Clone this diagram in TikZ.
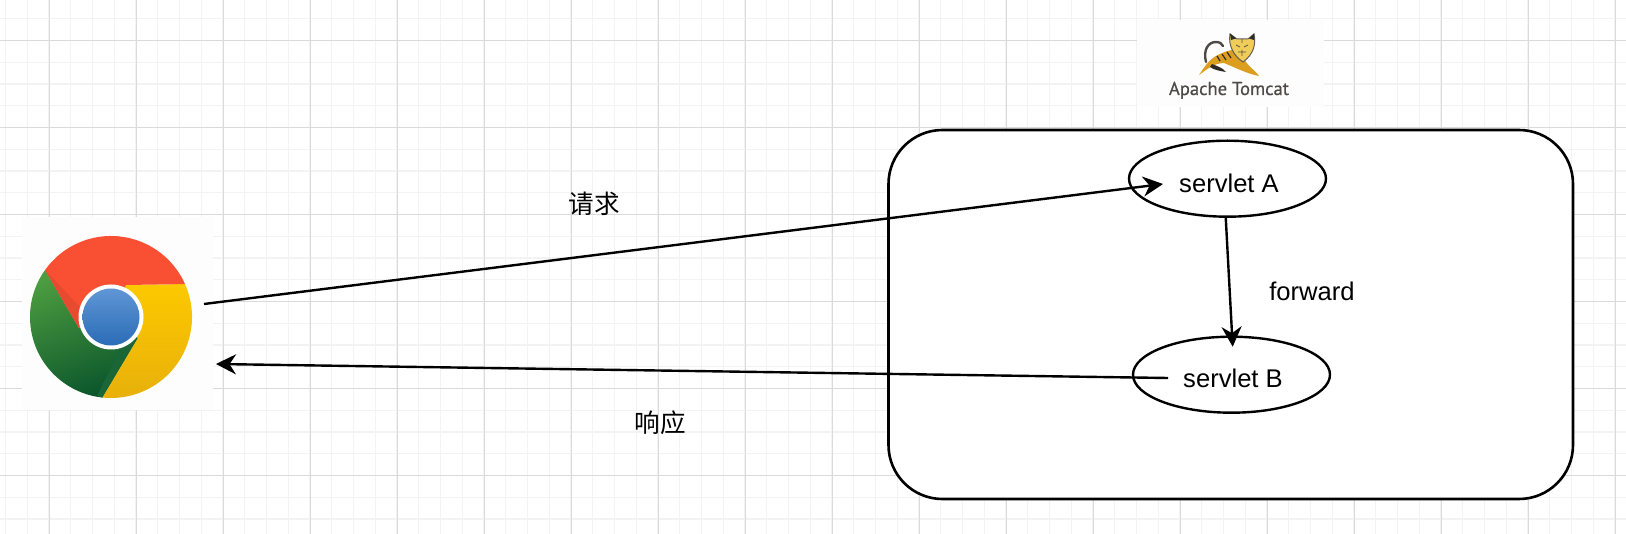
\documentclass[tikz,border=0pt]{standalone}
\usepackage{fontspec}
\setmainfont{Liberation Sans}
\newfontfamily\cjkfont{Noto Sans CJK SC}
\newfontfamily\logofont[FakeBold=0.6]{PT Sans}
\usetikzlibrary{arrows.meta,shapes.geometric}
\definecolor{gridmajor}{HTML}{DADADA}
\definecolor{gridminor}{HTML}{F3F3F3}
\definecolor{imgbg}{HTML}{FDFDFD}
\definecolor{catgold}{HTML}{DB9E1E}
\definecolor{cathead}{HTML}{F0CC58}
\definecolor{catdark}{HTML}{2E2A25}
\definecolor{greenA}{HTML}{4C9D40}
\definecolor{greenB}{HTML}{0C562C}
\definecolor{greenC}{HTML}{1A6636}
\definecolor{yellowA}{HTML}{FCC900}
\definecolor{yellowB}{HTML}{E8B00A}
\definecolor{redA}{HTML}{F95034}
\definecolor{redB}{HTML}{E84A30}
\definecolor{blueA}{HTML}{6096D6}
\definecolor{blueB}{HTML}{2A6CB6}
\tikzset{
  minorline/.style={draw=gridminor,line width=1.4pt},
  majorline/.style={draw=gridmajor,line width=1.2pt},
  boxshape/.style={draw=black,fill=white,line width=2.6pt,rounded corners=54pt},
  servletshape/.style={draw=black,line width=2.4pt,ellipse,minimum width=197pt,minimum height=76pt,inner sep=0pt},
  flow/.style={draw=black,line width=2.4pt,-{Stealth[length=20pt,width=20pt,inset=6.5pt]}},
  lbl/.style={inner sep=0pt,font=\fontsize{25.6}{30}\selectfont},
  cjklbl/.style={inner sep=0pt,font=\cjkfont\fontsize{25.6}{30}\selectfont},
  imgpanel/.style={fill=imgbg,draw=none},
}
\begin{document}
\begin{tikzpicture}[x=1pt,y=-1pt]
\useasboundingbox (0,0) rectangle (1626,534);
\fill[white] (0,0) rectangle (1626,534);
% grid
\foreach \k in {0,...,74} {\draw[minorline] ({5.5+21.75*\k},0) -- ({5.5+21.75*\k},534);}
\foreach \k in {0,...,24} {\draw[minorline] (0,{18.75+21.75*\k}) -- (1626,{18.75+21.75*\k});}
\foreach \k in {0,...,18} {\draw[majorline] ({49.5+87*\k},0) -- ({49.5+87*\k},534);}
\foreach \k in {0,...,5} {\draw[majorline] (0,{40.5+87*\k}) -- (1626,{40.5+87*\k});}
% image panels
\fill[imgpanel] (22,217) rectangle (213,410);
\fill[imgpanel] (1137,20) rectangle (1324,107);
% Chrome logo
\begin{scope}[shift={(111,317)},yscale=-1]
  \shade[top color=greenA,bottom color=greenB,shading angle=20]
    (144.5:81) arc[start angle=144.5,end angle=264,radius=81] -- (27,-21) -- (0,0) -- (-32,-11) -- cycle;
  \fill[greenC] (-8.7,-80.5) -- (27,-21) -- (10,-30) -- (-14,-79) -- cycle;
  \shade[top color=yellowA,bottom color=yellowB]
    (24:81) arc[start angle=24,end angle=-96,radius=81] -- (27,-21) -- (0,0) -- (15,32) -- cycle;
  \fill[redA] (24:81) arc[start angle=24,end angle=144.5,radius=81] -- (-32,-11) -- (0,0) -- (15,32) -- cycle;
  \fill[redB] (144.5:81) -- (-32,-11) -- (-29,8) -- cycle;
  \fill[white] (0,0) circle (32.5);
  \shade[top color=blueA,bottom color=blueB] (0,0) circle (28.5);
\end{scope}
% Tomcat logo
\draw[draw=catdark!85!white,line width=2.4pt,line cap=round] (1206,62) .. controls (1203,50) and (1208,42) .. (1216,42) .. controls (1220,42) and (1222,44) .. (1223,46);
\fill[catgold] (1199,75) .. controls (1205,66) and (1210,58) .. (1220,54) .. controls (1226,51) and (1230,50) .. (1234,50)
  -- (1246,62) .. controls (1250,68) and (1256,71) .. (1259,76) .. controls (1248,74) and (1236,68) .. (1224,63)
  .. controls (1214,63) and (1206,70) .. (1199,75) -- cycle;
\fill[catdark] (1212,64) .. controls (1216,66) and (1222,67) .. (1226,72) .. controls (1220,71) and (1214,70) .. (1210,67) -- cycle;
\draw[catdark,line width=1.2pt] (1222,54) -- (1226,60) (1227,52) -- (1231,58) (1217,56) -- (1220,61);
\filldraw[fill=cathead,draw=catdark!75!white,line width=1pt] (1230,34) -- (1237,39) -- (1248,39) -- (1254,34)
  .. controls (1256,44) and (1254,54) .. (1243,62) .. controls (1234,56) and (1228,46) .. (1230,34) -- cycle;
\fill[catdark] (1230,33.5) -- (1236,38.5) -- (1231,40) -- cycle;
\fill[catdark] (1254,33.5) -- (1249,38.5) -- (1254,40) -- cycle;
\draw[catdark!80!white,line width=0.8pt] (1236,45) -- (1240,47) (1248,45) -- (1244,47) (1242,39) -- (1242,43) (1238,52) -- (1246,52) (1242,50) -- (1242,56);
\node[inner sep=0pt,anchor=base,text=catdark!85!white,font=\logofont\fontsize{18.6}{22}\selectfont] (tomcatlabel) at (1229,95) {Apache Tomcat};
% container
\node[boxshape,rectangle,minimum width=684.5pt,minimum height=369pt,inner sep=0pt] (tomcatbox) at (1230.75,314.5) {};
% servlets
\node[servletshape] (sa) at (1227.5,178.7) {};
\node[servletshape] (sb) at (1231.5,374.7) {};
% connector ends
\coordinate (chromeout) at (204,304);
\coordinate (chromein) at (216,364);
\coordinate (saIn) at (1163,184);
\coordinate (saOut) at (1225.7,217);
\coordinate (sbIn) at (1232.7,346.7);
\coordinate (sbOut) at (1168,378);
\draw[flow] (chromeout) -- (saIn);
\draw[flow] (saOut) -- (sbIn);
\draw[flow] (sbOut) -- (chromein);
% labels
\node[lbl] (tsa) at (1229,183) {servlet A};
\node[lbl] (tsb) at (1233,378) {servlet B};
\node[lbl] (tfw) at (1312,291) {forward};
\node[cjklbl] (treq) at (594,204) {请求};
\node[cjklbl] (tres) at (660,423) {响应};
\end{tikzpicture}
\end{document}
